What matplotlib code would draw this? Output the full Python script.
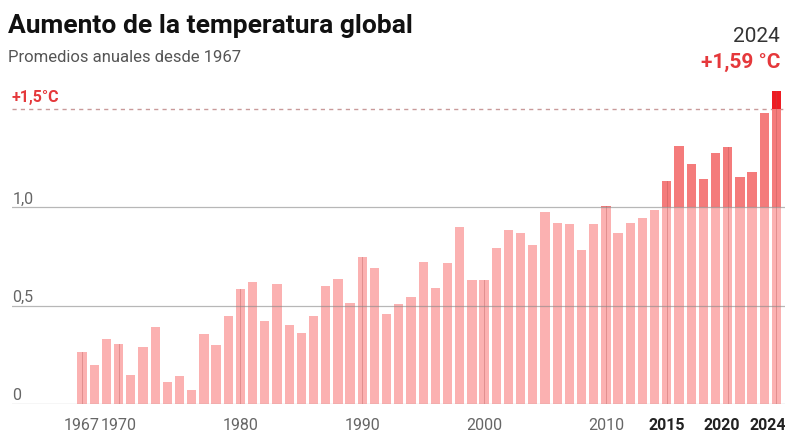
import numpy as np
import matplotlib
matplotlib.use("Agg")
import matplotlib.pyplot as plt

# annual global temperature anomaly (°C)
years = list(range(1967, 2025))
anomaly = [0.265, 0.20, 0.33, 0.305, 0.15, 0.29, 0.39, 0.11, 0.14, 0.07,
           0.355, 0.30, 0.45, 0.585, 0.62, 0.42, 0.61, 0.40, 0.36, 0.45,
           0.60, 0.635, 0.515, 0.75, 0.69, 0.46, 0.507, 0.544, 0.72, 0.59,
           0.715, 0.90, 0.63, 0.63, 0.795, 0.885, 0.87, 0.81, 0.975, 0.92,
           0.915, 0.785, 0.915, 1.007, 0.87, 0.92, 0.945, 0.987, 1.134, 1.314,
           1.22, 1.143, 1.277, 1.307, 1.155, 1.178, 1.48, 1.59]

xtick_years = [1967, 1970, 1980, 1990, 2000, 2010, 2015, 2020, 2024]
bold_years = [2015, 2020, 2024]
ytick_vals = [0, 0.5, 1.0]
ytick_labels = ["0", "0,5", "1,0"]
limit = 1.5

light = "#fbb1b1"
mid = "#f47b7b"
hot = "#ee1c22"
red_txt = "#e5383b"
font = ["Roboto", "DejaVu Sans"]

fig = plt.figure(figsize=(7.85, 4.32), dpi=100)
ax = fig.add_axes([12 / 785, 28 / 432, 1 - 12 / 785, 318.5 / 432])

x = np.array(years)
v = np.array(anomaly)
w = 0.76
low = np.minimum(v, 1.0)
middle = np.clip(v, 1.0, limit) - 1.0
top = np.clip(v, limit, None) - limit
ax.bar(x, low, width=w, color=light, zorder=2)
ax.bar(x, middle, bottom=1.0, width=w, color=mid, zorder=2)
ax.bar(x, top, bottom=limit, width=w, color=hot, zorder=2)

# faint year lines running through the bars
for yr in xtick_years:
    h = v[years.index(yr)]
    ax.plot([yr, yr], [0, h], color="#b05050", lw=0.7, alpha=0.35, zorder=3)

# horizontal guides
for yv, lab in zip(ytick_vals, ytick_labels):
    ax.axhline(yv, color="#888888", lw=0.9, alpha=0.6, zorder=3)
    ax.text(1961.3, yv + 0.018, lab, fontsize=11.5, color="#666666",
            family=font, ha="left", va="baseline")
ax.axhline(limit, color="#c99a9a", lw=1.0, ls=(0, (3, 3)), zorder=1)
ax.text(1961.2, limit + 0.035, "+1,5°C", fontsize=11.5, color=red_txt,
        fontweight="bold", family=font, ha="left", va="baseline")

ax.set_xlim(1961.25, 2024.7)
ax.set_ylim(0, 1.62)
ax.axis("off")

# small nudges so neighbouring labels don't collide / fall off the edge
nudge = {2020: -0.5, 2024: -0.75}
for yr in xtick_years:
    b = yr in bold_years
    ax.text(yr + nudge.get(yr, 0), -0.13, str(yr), fontsize=11.5,
            ha="center", va="baseline", family=font,
            color="#222222" if b else "#666666",
            fontweight="bold" if b else "normal", clip_on=False)

fig.text(8 / 785, 1 - 33 / 432, "Aumento de la temperatura global",
         fontsize=19, fontweight="bold", family=font, color="#111111",
         ha="left", va="baseline")
fig.text(8 / 785, 1 - 62 / 432, "Promedios anuales desde 1967",
         fontsize=12, family=font, color="#555555", ha="left", va="baseline")
fig.text(780 / 785, 1 - 42 / 432, "2024", fontsize=15, family=font,
         color="#333333", ha="right", va="baseline")
fig.text(780 / 785, 1 - 68 / 432, "+1,59 °C", fontsize=15, fontweight="bold",
         family=font, color=red_txt, ha="right", va="baseline")

fig.savefig("out.png", dpi=100, facecolor="white")
